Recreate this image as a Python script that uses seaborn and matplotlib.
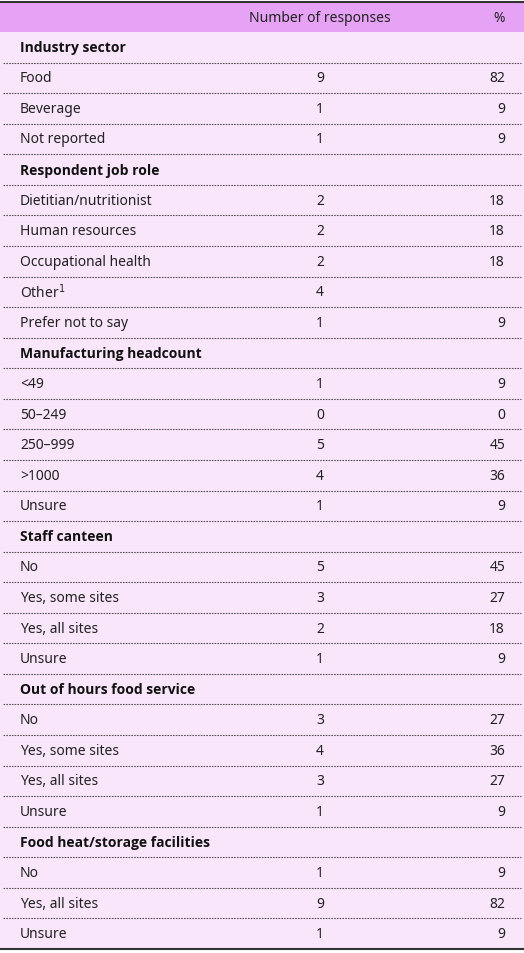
import matplotlib
matplotlib.use("Agg")
import matplotlib.pyplot as plt
import seaborn as sns

sns.set_theme(style="white")
plt.rcParams['font.family'] = ['Noto Sans', 'DejaVu Sans']

sections = ["Industry sector", "Respondent job role", "Manufacturing headcount",
            "Staff canteen", "Out of hours food service", "Food heat/storage facilities"]
labels = [
    ["Food", "Beverage", "Not reported"],
    ["Dietitian/nutritionist", "Human resources", "Occupational health", "Other$^1$", "Prefer not to say"],
    ["<49", "50\u2013249", "250\u2013999", ">1000", "Unsure"],
    ["No", "Yes, some sites", "Yes, all sites", "Unsure"],
    ["No", "Yes, some sites", "Yes, all sites", "Unsure"],
    ["No", "Yes, all sites", "Unsure"],
]
counts = [[9, 1, 1], [2, 2, 2, 4, 1], [1, 0, 5, 4, 1], [5, 3, 2, 1], [3, 4, 3, 1], [1, 9, 1]]
pcts = [["82", "9", "9"], ["18", "18", "18", "", "9"], ["9", "0", "45", "36", "9"],
        ["45", "27", "18", "9"], ["27", "36", "27", "9"], ["9", "82", "9"]]

rows = []
for s, ls, cs, ps in zip(sections, labels, counts, pcts):
    rows.append((s, "", "", True))
    for l, c, p in zip(ls, cs, ps):
        rows.append((l, str(c), p, False))

W, H = 524, 954
fig = plt.figure(figsize=(W / 100, H / 100), dpi=100)
ax = fig.add_axes([0, 0, 1, 1])
ax.set_xlim(0, W)
ax.set_ylim(H, 0)
ax.axis("off")

top, head_h = 3, 30
row_h = (950 - top - head_h) / len(rows)
ax.axhspan(top, top + head_h, color="#e6a3f5", lw=0)
ax.axhspan(top + head_h, 950, color="#f9e6fb", lw=0)
ax.plot([0, W], [top, top], color="#333333", lw=1.5)
ax.text(320, top + head_h / 2, "Number of responses", ha="center", va="center", fontsize=10, color="#222222")
ax.text(505, top + head_h / 2, "%", ha="right", va="center", fontsize=10, color="#222222")

for i, (l, c, p, bold) in enumerate(rows):
    y0 = top + head_h + i * row_h
    yc = y0 + row_h / 2
    if bold:
        ax.text(20, yc, l, ha="left", va="center", fontsize=10, color="#111111",
                fontweight="bold", family=["Open Sans", "DejaVu Sans"])
    else:
        ax.text(20, yc, l, ha="left", va="center", fontsize=10, color="#222222")
    ax.text(320, yc, c, ha="center", va="center", fontsize=10, color="#222222")
    ax.text(505, yc, p, ha="right", va="center", fontsize=10, color="#222222")
    if i < len(rows) - 1:
        ax.plot([3, W - 3], [y0 + row_h, y0 + row_h], color="#555555", lw=0.8, ls=(0, (1.5, 1)))
ax.plot([0, W], [950, 950], color="#333333", lw=1.5)

fig.savefig("out.png", dpi=100)
